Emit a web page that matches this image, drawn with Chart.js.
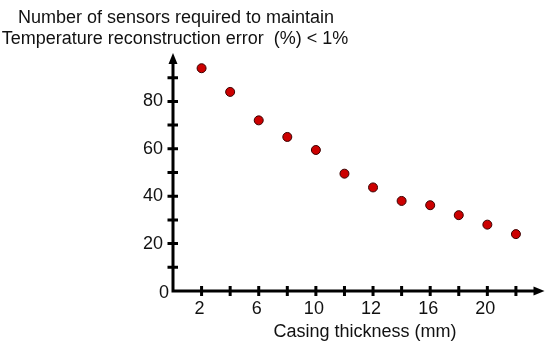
<!DOCTYPE html>
<html>
<head>
<meta charset="utf-8">
<script src="https://cdn.jsdelivr.net/npm/chart.js@4/dist/chart.umd.min.js"></script>
<style>
  html, body { margin: 0; padding: 0; background: #fff; }
  #wrap { width: 550px; height: 347px; position: relative; }
</style>
</head>
<body>
<div id="wrap"><canvas id="myChart"></canvas></div>
<script>
// tick positions along the casing axis and the labels printed under them
const tickPositions = [1, 2, 3, 4, 5, 6, 7, 8, 9, 10, 11, 12];
const xTickLabels = ["2", "", "6", "", "10", "", "12", "", "16", "", "20", ""];
// number of sensors
const sensorCounts = [94, 84, 72, 65, 59.5, 49.5, 43.7, 38, 36.2, 32, 28, 24];
const yMajorTicks = [20, 40, 60, 80];
const yMinorTicks = [10, 30, 50, 70, 90];

const titleLines = [
  "Number of sensors required to maintain",
  "Temperature reconstruction error  (%) < 1%"
];
const xTitle = "Casing thickness (mm)";

const FONT = "18px 'Liberation Sans', Arial, sans-serif";

// axes with arrows, cross ticks and all the text
const arrowAxes = {
  id: "arrowAxes",
  afterDraw(chart) {
    const ctx = chart.ctx;
    const xs = chart.scales.x;
    const ys = chart.scales.y;
    const x0 = xs.getPixelForValue(0);
    const y0 = ys.getPixelForValue(0);
    const xEnd = xs.getPixelForValue(xs.max);
    const yEnd = ys.getPixelForValue(ys.max);

    ctx.save();
    ctx.strokeStyle = "#000";
    ctx.fillStyle = "#000";
    ctx.lineWidth = 3;

    // axis lines
    ctx.beginPath();
    ctx.moveTo(x0, y0 + 1.5);
    ctx.lineTo(x0, yEnd + 8);
    ctx.moveTo(x0 - 1.5, y0);
    ctx.lineTo(xEnd - 8, y0);
    ctx.stroke();

    // arrow heads
    ctx.beginPath();
    ctx.moveTo(x0, yEnd - 1);
    ctx.lineTo(x0 - 4.5, yEnd + 10);
    ctx.lineTo(x0 + 4.5, yEnd + 10);
    ctx.closePath();
    ctx.fill();
    ctx.beginPath();
    ctx.moveTo(xEnd, y0);
    ctx.lineTo(xEnd - 11, y0 - 4.5);
    ctx.lineTo(xEnd - 11, y0 + 4.5);
    ctx.closePath();
    ctx.fill();

    // tick marks
    ctx.beginPath();
    yMajorTicks.concat(yMinorTicks).forEach((v) => {
      const py = ys.getPixelForValue(v);
      ctx.moveTo(x0 - 5.5, py);
      ctx.lineTo(x0 + 5, py);
    });
    tickPositions.forEach((v) => {
      const px = xs.getPixelForValue(v);
      ctx.moveTo(px, y0 - 5);
      ctx.lineTo(px, y0 + 5);
    });
    ctx.stroke();

    // tick labels
    ctx.font = FONT;
    ctx.fillStyle = "#111";
    ctx.textBaseline = "middle";
    ctx.textAlign = "right";
    yMajorTicks.forEach((v) => {
      ctx.fillText(String(v), x0 - 10, ys.getPixelForValue(v));
    });
    ctx.fillText("0", x0 - 4, y0 + 2);

    ctx.textAlign = "center";
    tickPositions.forEach((v, i) => {
      if (xTickLabels[i]) {
        ctx.fillText(xTickLabels[i], xs.getPixelForValue(v) - 2, y0 + 18);
      }
    });

    // axis titles
    ctx.fillText(xTitle, x0 + 192, y0 + 41);
    ctx.fillText(titleLines[0], x0 + 3, 18);
    ctx.fillText(titleLines[1], x0 + 2, 39);
    ctx.restore();
  }
};

const points = sensorCounts.map((v, i) => ({ x: tickPositions[i], y: v }));

const config = {
  type: "scatter",
  data: {
    datasets: [
      {
        label: "Sensors",
        data: points,
        backgroundColor: "#cc0000",
        borderColor: "#3a0000",
        borderWidth: 1,
        pointRadius: 4.5,
        pointHoverRadius: 4.5
      }
    ]
  },
  plugins: [arrowAxes],
  options: {
    responsive: true,
    maintainAspectRatio: false,
    animation: false,
    layout: {
      padding: { left: 173, right: 5, top: 54, bottom: 56 }
    },
    plugins: {
      legend: { display: false },
      tooltip: { enabled: false },
      title: { display: false }
    },
    scales: {
      x: {
        type: "linear",
        display: false,
        min: 0,
        max: 13
      },
      y: {
        type: "linear",
        display: false,
        min: 0,
        max: 100
      }
    }
  }
};

new Chart(document.getElementById("myChart"), config);
</script>
</body>
</html>
